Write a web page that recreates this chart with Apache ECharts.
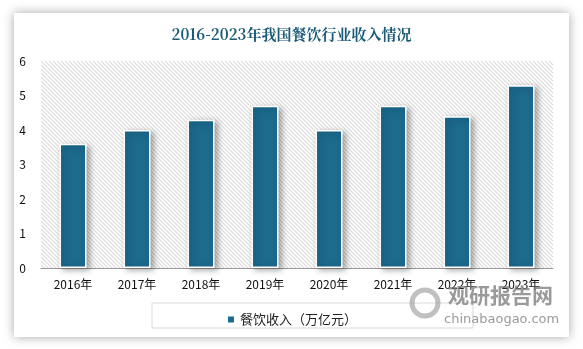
<!DOCTYPE html>
<html><head><meta charset="utf-8">
<script src="https://cdn.jsdelivr.net/npm/echarts@6/dist/echarts.min.js"></script>
<style>html,body{margin:0;padding:0;background:#fff;}#c{width:583px;height:349px;}</style>
</head><body><div id="c"></div>
<script>
const categories = ['2016年','2017年','2018年','2019年','2020年','2021年','2022年','2023年'];
const revenue = [3.6, 4.0, 4.3, 4.7, 4.0, 4.7, 4.4, 5.3];
const seriesName = '餐饮收入（万亿元）';
const titleText = '2016-2023年我国餐饮行业收入情况';

const pc = document.createElement('canvas');
pc.width = 4; pc.height = 4;
const g = pc.getContext('2d');
g.fillStyle = '#ffffff'; g.fillRect(0,0,4,4);
g.strokeStyle = '#dcdcdc'; g.lineWidth = 1.1;
g.beginPath();
g.moveTo(-1,-1); g.lineTo(5,5);
g.moveTo(-1,3); g.lineTo(1,5);
g.moveTo(3,-1); g.lineTo(5,1);
g.stroke();

const chart = echarts.init(document.getElementById('c'));
chart.setOption({
  animation: false,
  backgroundColor: '#fff',
  graphic: [
    {type:'rect', z:-10, shape:{x:14,y:13,width:555,height:324}, style:{fill:'#fff', shadowBlur:10, shadowColor:'rgba(0,0,0,0.35)', shadowOffsetX:0, shadowOffsetY:0}},
    {type:'rect', z:1, shape:{x:152,y:303,width:321,height:25}, style:{fill:'none', stroke:'#d9d9d9', lineWidth:1}},
    {type:'circle', z:5, shape:{cx:425,cy:303,r:13}, style:{fill:'none', stroke:'rgba(150,150,150,0.6)', lineWidth:5}},
    {type:'text', z:5, left:448, top:285, style:{text:'观研报告网', font:'bold 21px "Noto Sans CJK SC"', fill:'rgba(120,120,120,0.75)'}},
    {type:'text', z:5, left:444, top:313, style:{text:'chinabaogao.com', font:'13px "DejaVu Sans"', fill:'rgba(120,120,120,0.75)'}}
  ],
  title: {text: titleText, left: 'center', top: 22,
    textStyle:{fontFamily:'"Noto Serif CJK SC","Noto Sans CJK SC",serif', fontSize:15, fontWeight:'bold', color:'#1b5a78'}},
  legend: {data:[seriesName], left:'center', top:308, itemWidth:8, itemHeight:8, icon:'rect',
    textStyle:{fontFamily:'"Noto Sans CJK SC"', fontSize:13, color:'#222'}},
  grid: {left:41, right:30, top:61, bottom:81, show:true, borderWidth:0,
    backgroundColor:{image: pc, repeat:'repeat'}},
  xAxis: {type:'category', data: categories,
    axisLine:{lineStyle:{color:'#999'}}, axisTick:{show:false},
    axisLabel:{color:'#111', fontSize:12, margin:10, fontFamily:'"Noto Sans CJK SC"'}},
  yAxis: {type:'value', min:0, max:6, interval:1,
    axisLine:{show:false}, axisTick:{show:false}, splitLine:{show:false},
    axisLabel:{color:'#111', fontSize:12, margin:15, fontFamily:'"Noto Sans CJK SC"'}},
  series: [{type:'bar', name: seriesName, data: revenue, barWidth:27, z:3,
    itemStyle:{color:'#1c6a8e', borderColor:'#fff', borderWidth:1.5,
      shadowColor:'rgba(0,0,0,0.35)', shadowBlur:6, shadowOffsetX:3, shadowOffsetY:2}}]
});
</script></body></html>
